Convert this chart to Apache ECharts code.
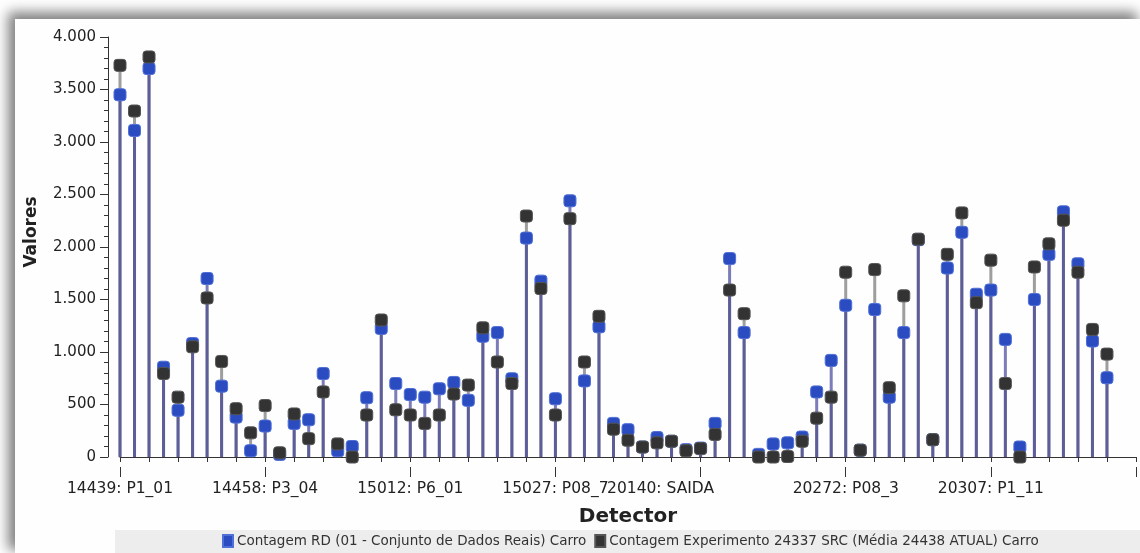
<!DOCTYPE html>
<html>
<head>
<meta charset="utf-8">
<script src="https://cdn.jsdelivr.net/npm/echarts@6/dist/echarts.min.js"></script>
<style>
  html, body { margin: 0; padding: 0; background: #ffffff; width: 1140px; height: 553px; overflow: hidden; }
  #panel { position: absolute; left: 15px; top: 19px; width: 1125px; height: 534px; background: #fefefe;
           box-shadow: -5px -5px 12px 2px rgba(0,0,0,0.5); }
  #chart { position: absolute; left: 0; top: 0; width: 1140px; height: 553px; }
</style>
</head>
<body>
<div id="panel"></div>
<div id="chart"></div>
<script>
// ---- data ----
const tickLabels = ["14439: P1_01", "14458: P3_04", "15012: P6_01", "15027: P08_7", "20140: SAIDA", "20272: P08_3", "20307: P1_11"];
const categories = [];
for (let i = 0; i < 71; i++) categories.push(i % 10 === 0 && tickLabels[i / 10] ? tickLabels[i / 10] : "");

const seriesRD = [3450, 3110, 3700, 855, 445, 1080, 1700, 675, 380, 60,
  295, 25, 320, 355, 795, 60, 100, 565, 1225, 700,
  595, 570, 650, 710, 540, 1150, 1185, 745, 2085, 1675,
  555, 2440, 725, 1240, 320, 260, 95, 185, 150, 70,
  85, 320, 1890, 1185, 25, 125, 135, 190, 620, 920,
  1445, 65, 1405, 570, 1185, 2070, 165, 1800, 2140, 1550,
  1590, 1120, 95, 1500, 1930, 2335, 1840, 1105, 755];
const seriesExp = [3730, 3295, 3810, 795, 570, 1050, 1515, 910, 460, 230,
  490, 40, 410, 175, 620, 125, 0, 400, 1305, 450,
  400, 320, 400, 600, 685, 1230, 905, 700, 2295, 1605,
  400, 2270, 905, 1340, 265, 160, 95, 135, 150, 60,
  80, 215, 1590, 1365, 0, 0, 5, 150, 370, 570,
  1760, 65, 1785, 660, 1535, 2075, 165, 1930, 2325, 1470,
  1875, 700, 0, 1810, 2030, 2255, 1760, 1215, 980];
const nameRD = "Contagem RD (01 - Conjunto de Dados Reais) Carro";
const nameExp = "Contagem Experimento 24337 SRC (Média 24438 ATUAL) Carro";

// ---- chart ----
const chart = echarts.init(document.getElementById('chart'), null, { renderer: 'canvas' });
const FONT = 'DejaVu Sans';
const fmtNum = v => String(v).replace(/\B(?=(\d{3})+(?!\d))/g, '.');

chart.setOption({
  animation: false,
  backgroundColor: 'transparent',
  grid: { left: 120, right: 4, top: 37, bottom: 96, containLabel: false },
  graphic: [{
    type: 'rect', left: 115, top: 530, z: -1,
    shape: { width: 1025, height: 23 },
    style: { fill: '#ededed' }
  }],
  legend: {
    data: [nameRD, nameExp],
    left: 217, top: 529,
    icon: 'rect', itemWidth: 10, itemHeight: 12, itemGap: 8,
    textStyle: { fontFamily: FONT, fontSize: 13.5, color: '#333', padding: [0, 0, 0, -1] }
  },
  xAxis: [{
    type: 'category', data: categories, boundaryGap: false, offset: 10,
    axisLine: { lineStyle: { color: '#333', width: 1 } },
    axisTick: { interval: 1, length: 5, lineStyle: { color: '#333' } },
    axisLabel: {
      interval: 9, margin: 14, color: '#222', fontFamily: FONT, fontSize: 15.5,
      formatter: (v, idx) => idx === 40 ? '{s|' + v + '}' : v,
      rich: { s: { fontFamily: FONT, fontSize: 15.5, color: '#222', padding: [0, 80, 0, 0] } }
    },
    name: 'Detector', nameLocation: 'middle', nameGap: 40,
    nameTextStyle: { fontFamily: FONT, fontWeight: 'bold', fontSize: 20, color: '#222' }
  }, {
    type: 'category', data: categories, boundaryGap: false, offset: 10, position: 'bottom',
    axisLine: { show: false },
    axisTick: { interval: 9, length: 10, lineStyle: { color: '#333' } },
    axisLabel: { show: false }
  }],
  yAxis: {
    type: 'value', min: 0, max: 4000, interval: 500, offset: 12,
    axisLine: { show: true, lineStyle: { color: '#333', width: 1 } },
    axisTick: { show: true, length: 8, lineStyle: { color: '#333' } },
    minorTick: { show: true, splitNumber: 5, length: 4, lineStyle: { color: '#333' } },
    splitLine: { show: false },
    axisLabel: { margin: 12, color: '#222', fontFamily: FONT, fontSize: 15, formatter: fmtNum },
    name: 'Valores', nameLocation: 'middle', nameGap: 68, nameRotate: 90,
    nameTextStyle: { fontFamily: FONT, fontWeight: 'bold', fontSize: 17, color: '#222', padding: [0, 0, 0, 30] }
  },
  series: [{
    name: 'stemExp', type: 'bar', data: seriesExp, barWidth: 3, barGap: '-100%',
    itemStyle: { color: 'rgba(120,120,120,0.72)' }, z: 1, silent: true
  }, {
    name: 'stemRD', type: 'bar', data: seriesRD, barWidth: 3, barGap: '-100%',
    itemStyle: { color: 'rgba(60,62,150,0.68)' }, z: 1, silent: true
  }, {
    name: nameRD, type: 'scatter', data: seriesRD, symbol: 'roundRect', symbolSize: 12,
    itemStyle: { color: '#2a4cc0', borderColor: '#4f6fd8', borderWidth: 1, opacity: 1 }, z: 3
  }, {
    name: nameExp, type: 'scatter', data: seriesExp, symbol: 'roundRect', symbolSize: 12,
    itemStyle: { color: '#333333', borderColor: '#555555', borderWidth: 1, opacity: 1 }, z: 3
  }]
});
</script>
</body>
</html>
